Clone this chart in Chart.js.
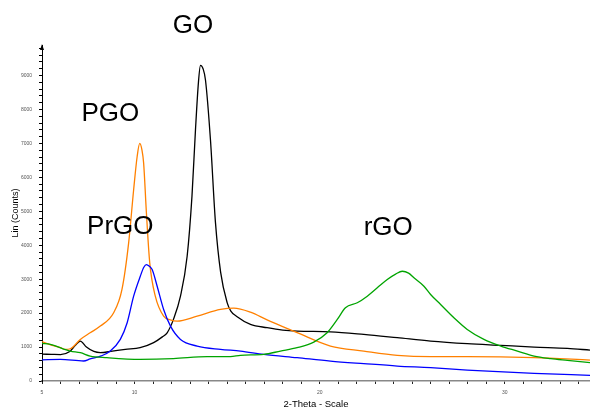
<!DOCTYPE html>
<html>
<head>
<meta charset="utf-8">
<script src="https://cdn.jsdelivr.net/npm/chart.js@4"></script>
<style>
  body { margin: 0; background: #fff; }
  #wrap { width: 590px; height: 407px; }
</style>
</head>
<body>
<div id="wrap"><canvas id="xrd"></canvas></div>
<script>
// XRD patterns, 2-theta (deg) vs counts
var goTheta = [5.0, 5.5, 6.0, 6.5, 6.8, 7.07, 7.4, 7.8, 8.15, 8.8, 9.5, 10.3, 11.03, 11.5, 11.76, 12.1, 12.48, 12.84, 13.1, 13.29, 13.45, 13.56, 13.7, 13.83, 14.1, 14.37, 14.65, 15.0, 15.2, 15.5, 16.26, 17.16, 18.0, 18.78, 20.58, 22.38, 24.19, 25.99, 27.97, 29.78, 31.58, 33.38, 34.6]
var goCounts = [790, 785, 780, 870, 1050, 1175, 1000, 870, 835, 880, 930, 980, 1130, 1300, 1420, 1815, 2500, 3675, 5440, 7400, 8800, 9300, 9200, 8870, 7100, 4665, 3200, 2310, 2060, 1910, 1670, 1570, 1500, 1470, 1450, 1373, 1276, 1176, 1100, 1050, 1000, 961, 910]

var pgoTheta = [5.0, 5.5, 6.0, 6.26, 6.53, 7.07, 7.6, 8.15, 8.87, 9.32, 9.68, 9.95, 10.14, 10.28, 10.4, 10.49, 10.64, 10.82, 11.12, 11.57, 11.93, 12.3, 13.38, 14.64, 15.36, 16.26, 17.16, 18.0, 18.78, 20.58, 22.38, 24.19, 25.99, 27.97, 31.58, 34.6]
var pgoCounts = [1160, 1060, 980, 930, 950, 1225, 1420, 1617, 2010, 2700, 4070, 5636, 6615, 7000, 6800, 6420, 4950, 3480, 2500, 1910, 1800, 1764, 1911, 2108, 2150, 2030, 1800, 1600, 1423, 1029, 882, 756, 717, 717, 688, 617]

var prgoTheta = [5.0, 6.0, 7.25, 7.6, 8.2, 8.69, 9.23, 9.6, 9.95, 10.31, 10.5, 10.64, 10.8, 10.95, 11.22, 11.57, 11.94, 12.48, 13.38, 14.64, 15.72, 16.98, 18.78, 20.58, 22.38, 24.19, 25.99, 27.97, 31.58, 34.6]
var prgoCounts = [625, 635, 590, 650, 740, 882, 1226, 1717, 2500, 3087, 3350, 3430, 3380, 3283, 2793, 2108, 1617, 1226, 1029, 932, 882, 785, 688, 588, 512, 441, 394, 323, 226, 168]

var rgoTheta = [5.0, 5.45, 6.53, 7.07, 7.6, 8.5, 10.3, 12.1, 13.92, 15.18, 15.72, 16.98, 17.88, 18.78, 19.68, 20.4, 20.95, 21.39, 22.03, 22.57, 23.11, 23.65, 24.1, 24.46, 24.8, 25.09, 25.63, 25.99, 26.53, 27.25, 27.97, 28.87, 29.78, 30.68, 31.58, 32.48, 33.38, 34.6]
var rgoCounts = [1110, 1079, 882, 835, 735, 688, 638, 659, 717, 717, 756, 785, 882, 982, 1147, 1423, 1814, 2158, 2305, 2500, 2746, 2990, 3150, 3234, 3180, 3040, 2793, 2550, 2255, 1864, 1520, 1226, 1029, 882, 735, 659, 608, 541]

var labeledTicks = [5, 10, 20, 30]
var sampleNames = ['GO', 'PGO', 'PrGO', 'rGO']

function toPoints(xs, ys) {
    var pts = []
    for (var i = 0; i < xs.length; i++) pts.push({x: xs[i], y: ys[i]})
    return pts
}

function series(name, xs, ys, color) {
    return {
        label: name,
        data: toPoints(xs, ys),
        borderColor: color,
        borderWidth: 1.3,
        pointRadius: 0,
        fill: false,
        cubicInterpolationMode: 'monotone'
    }
}

// text labels next to the peaks, placed in data coordinates
const peakLabels = {
    id: 'peakLabels',
    afterDatasetsDraw(chart, args, opts) {
        const ctx = chart.ctx
        const xs = chart.scales.x, ys = chart.scales.y
        ctx.save()
        ctx.font = '26px "Liberation Sans", Arial, sans-serif'
        ctx.fillStyle = '#000'
        ctx.textAlign = 'center'
        ctx.textBaseline = 'middle'
        opts.at.forEach((p, i) => {
            ctx.fillText(sampleNames[i], xs.getPixelForValue(p[0]), ys.getPixelForValue(p[1]))
        })
        ctx.restore()
    }
}

// little arrow head on top of the y axis
const axisArrow = {
    id: 'axisArrow',
    afterDraw(chart) {
        const ctx = chart.ctx
        const a = chart.chartArea
        ctx.save()
        ctx.fillStyle = '#000'
        ctx.beginPath()
        ctx.moveTo(a.left, a.top - 1)
        ctx.lineTo(a.left - 2, a.top + 5)
        ctx.lineTo(a.left + 2, a.top + 5)
        ctx.closePath()
        ctx.fill()
        ctx.restore()
    }
}

const ctx = document.getElementById('xrd')

var myChart = new Chart(ctx, {
    type: 'line',
    data: {
        datasets: [
            series('rGO', rgoTheta, rgoCounts, '#00a400'),
            series('PrGO', prgoTheta, prgoCounts, '#0000ff'),
            series('PGO', pgoTheta, pgoCounts, '#ff8000'),
            series('GO', goTheta, goCounts, '#000000')
        ]
    },
    options: {
        responsive: true,
        maintainAspectRatio: false,
        animation: false,
        layout: { padding: { top: 45, left: 0, right: 0, bottom: 0 } },
        plugins: {
            legend: { display: false },
            tooltip: { enabled: false },
            peakLabels: { at: [[13.16, 10458], [8.69, 7870], [9.23, 4548], [23.7, 4513]] }
        },
        scales: {
            x: {
                type: 'linear',
                min: 5,
                max: 34.6,
                afterBuildTicks: (s) => {
                    var t = []
                    for (var v = 5; v <= 34; v++) t.push({value: v})
                    s.ticks = t
                },
                afterFit: (s) => { s.height = 26 },
                ticks: {
                    autoSkip: false,
                    maxRotation: 0,
                    padding: 6,
                    color: '#555',
                    font: { size: 5, family: '"Liberation Sans", Arial' },
                    callback: (v) => labeledTicks.includes(v) ? v : ''
                },
                grid: { drawOnChartArea: false, tickLength: 3, tickColor: '#222' },
                border: { color: '#888', width: 1.5 },
                title: {
                    display: true,
                    text: '2-Theta - Scale',
                    color: '#000',
                    padding: { top: 0, bottom: -3 },
                    font: { size: 9.5, family: '"Liberation Sans", Arial' }
                }
            },
            y: {
                min: 0,
                max: 9900,
                afterBuildTicks: (s) => {
                    var t = []
                    for (var v = 0; v <= 9800; v += 200) t.push({value: v})
                    s.ticks = t
                },
                afterFit: (s) => { s.width = 42 },
                ticks: {
                    autoSkip: false,
                    padding: 7,
                    color: '#555',
                    font: { size: 5, family: '"Liberation Sans", Arial' },
                    callback: (v) => v % 1000 === 0 ? v : ''
                },
                grid: { drawOnChartArea: false, tickLength: 3, tickColor: '#000' },
                border: { color: '#000', width: 1 },
                title: {
                    display: true,
                    text: 'Lin (Counts)',
                    color: '#000',
                    padding: { top: 10, bottom: 0 },
                    font: { size: 9, family: '"Liberation Sans", Arial' }
                }
            }
        }
    },
    plugins: [peakLabels, axisArrow]
})
</script>
</body>
</html>
